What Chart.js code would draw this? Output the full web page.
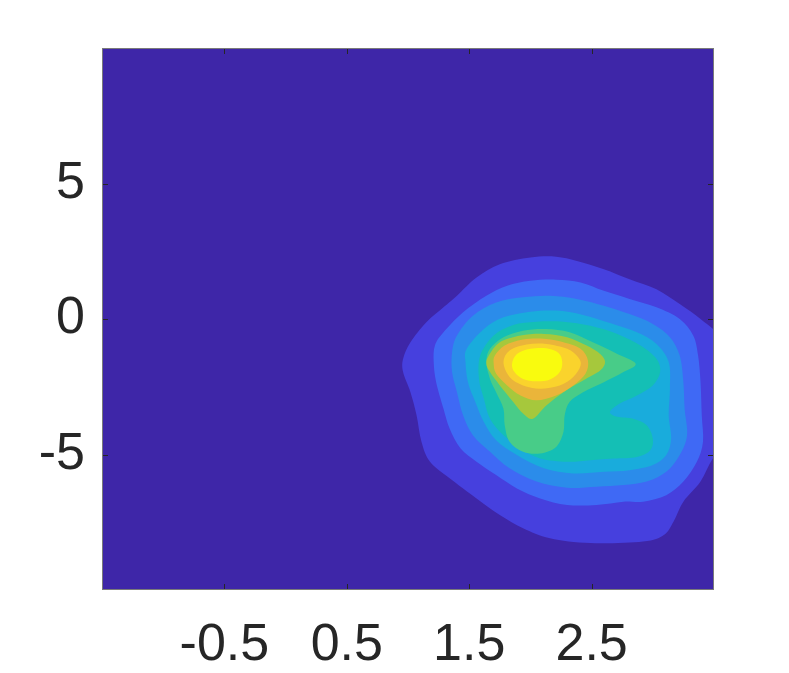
<!DOCTYPE html>
<html>
<head>
<meta charset="utf-8">
<script src="https://cdn.jsdelivr.net/npm/chart.js@4.4.1/dist/chart.umd.min.js"></script>
<style>
  html, body { margin: 0; padding: 0; background: #fff; }
  canvas { display: block; }
</style>
</head>
<body>
<canvas id="contour" width="789" height="673"></canvas>
<script>
// axis ticks
const xTicks = [-0.5, 0.5, 1.5, 2.5];
const yTicks = [5, 0, -5];

// filled contour levels, outermost first, [x, y] in data units
const level1 = [[1.40,0.86],[1.56,1.53],[1.75,2.02],[2.00,2.27],[2.21,2.30],[2.38,2.14],[2.60,1.84],[2.81,1.47],[3.03,1.10],[3.22,0.55],[3.39,0.00],[3.55,-0.70],[3.62,-2.0],[3.62,-4.5],[3.49,-5.15],[3.39,-6.00],[3.25,-6.74],[3.17,-7.47],[3.09,-7.97],[2.92,-8.21],[2.49,-8.27],[2.16,-8.09],[1.94,-7.72],[1.75,-7.23],[1.56,-6.62],[1.34,-5.88],[1.18,-5.27],[1.11,-4.53],[1.07,-3.55],[1.02,-2.70],[0.96,-1.96],[0.96,-1.47],[1.02,-0.86],[1.15,-0.12],[1.29,0.43]];
const level2 = [[1.29,-0.49],[1.45,0.25],[1.64,0.86],[1.81,1.23],[2.00,1.41],[2.21,1.45],[2.41,1.35],[2.60,1.04],[2.81,0.74],[3.03,0.43],[3.22,0.00],[3.33,-0.61],[3.37,-1.35],[3.39,-2.33],[3.40,-3.55],[3.41,-4.53],[3.36,-5.27],[3.25,-6.00],[3.11,-6.50],[2.92,-6.74],[2.76,-6.74],[2.54,-6.86],[2.30,-6.86],[2.08,-6.62],[1.89,-6.25],[1.72,-5.76],[1.56,-5.27],[1.43,-4.78],[1.34,-4.04],[1.29,-3.31],[1.23,-2.33],[1.21,-1.59],[1.22,-0.98]];
const level3 = [[1.40,-0.61],[1.53,0.12],[1.72,0.61],[1.94,0.80],[2.16,0.86],[2.38,0.74],[2.60,0.49],[2.81,0.18],[3.00,-0.18],[3.14,-0.67],[3.22,-1.35],[3.25,-2.33],[3.26,-3.31],[3.28,-4.29],[3.22,-5.02],[3.11,-5.64],[2.95,-6.00],[2.76,-6.13],[2.54,-6.19],[2.30,-6.23],[2.05,-6.00],[1.83,-5.51],[1.67,-4.90],[1.53,-4.29],[1.45,-3.55],[1.40,-2.70],[1.36,-1.96],[1.36,-1.23]];
const level4 = [[1.48,-1.10],[1.62,-0.37],[1.78,0.06],[2.00,0.27],[2.21,0.31],[2.43,0.15],[2.65,-0.15],[2.87,-0.49],[3.03,-0.92],[3.13,-1.59],[3.14,-2.57],[3.13,-3.55],[3.15,-4.41],[3.11,-5.02],[3.00,-5.39],[2.81,-5.58],[2.60,-5.64],[2.35,-5.70],[2.11,-5.51],[1.89,-5.02],[1.72,-4.47],[1.62,-3.80],[1.55,-3.06],[1.49,-2.33],[1.47,-1.59]];
const level5 = [[1.59,-1.35],[1.70,-0.61],[1.86,-0.22],[2.05,-0.10],[2.27,-0.10],[2.49,-0.25],[2.71,-0.55],[2.90,-0.98],[3.03,-1.47],[3.06,-1.96],[3.00,-2.45],[2.87,-2.82],[2.73,-3.12],[2.65,-3.43],[2.71,-3.61],[2.84,-3.68],[2.95,-3.92],[3.00,-4.41],[2.98,-4.84],[2.87,-5.09],[2.68,-5.15],[2.49,-5.21],[2.30,-5.27],[2.08,-5.15],[1.92,-4.78],[1.78,-4.29],[1.67,-3.68],[1.62,-2.94],[1.58,-2.21]];
const level6 = [[1.67,-1.10],[1.78,-0.67],[1.94,-0.43],[2.13,-0.37],[2.32,-0.49],[2.51,-0.86],[2.71,-1.29],[2.86,-1.65],[2.76,-1.96],[2.60,-2.33],[2.43,-2.70],[2.32,-3.06],[2.28,-3.55],[2.27,-4.17],[2.21,-4.72],[2.08,-4.96],[1.94,-4.90],[1.83,-4.53],[1.79,-3.92],[1.78,-3.31],[1.72,-2.70],[1.67,-2.21],[1.64,-1.59]];
const level7 = [[1.66,-1.35],[1.75,-0.86],[1.92,-0.61],[2.11,-0.55],[2.30,-0.67],[2.46,-0.98],[2.57,-1.29],[2.61,-1.59],[2.57,-1.90],[2.43,-2.27],[2.27,-2.70],[2.13,-3.19],[2.02,-3.68],[1.94,-3.49],[1.86,-3.06],[1.75,-2.45],[1.67,-1.96],[1.64,-1.65]];
const level8 = [[1.71,-1.35],[1.79,-0.98],[1.94,-0.76],[2.11,-0.73],[2.27,-0.86],[2.41,-1.10],[2.47,-1.53],[2.45,-2.02],[2.35,-2.45],[2.21,-2.82],[2.05,-3.00],[1.92,-2.82],[1.81,-2.45],[1.72,-2.02],[1.70,-1.65]];
const level9 = [[1.78,-1.59],[1.83,-1.16],[1.97,-0.94],[2.13,-0.92],[2.30,-1.10],[2.39,-1.41],[2.41,-1.72],[2.35,-2.14],[2.24,-2.45],[2.08,-2.57],[1.94,-2.45],[1.83,-2.14]];
const level10 = [[1.85,-1.65],[1.89,-1.29],[2.00,-1.10],[2.13,-1.08],[2.23,-1.25],[2.26,-1.59],[2.24,-1.96],[2.16,-2.23],[2.05,-2.30],[1.94,-2.21],[1.87,-1.96]];

const levels = [level1, level2, level3, level4, level5, level6, level7, level8, level9, level10];
const bgColor = '#3e26a8';
const levelColors = ['#4640de', '#3f69f5', '#2b8cea', '#19acdc', '#14bfb5', '#48cc88', '#a6c83c', '#eab53a', '#fad32c', '#f9fb0e'];

const textColor = '#262626';
const tickFont = { family: '"Liberation Sans", Arial, Helvetica, sans-serif', size: 52 };

// fills each level as a smooth closed curve through its points
const contourFill = {
  id: 'contourFill',
  beforeDatasetsDraw(chart) {
    const { ctx, chartArea: a } = chart;
    ctx.save();
    ctx.beginPath();
    ctx.rect(a.left, a.top, a.width, a.height);
    ctx.clip();
    ctx.fillStyle = bgColor;
    ctx.fillRect(a.left, a.top, a.width, a.height);
    chart.data.datasets.forEach((ds, i) => {
      const pts = chart.getDatasetMeta(i).data.map(p => ({ x: p.x, y: p.y }));
      const n = pts.length;
      ctx.beginPath();
      ctx.moveTo(pts[0].x, pts[0].y);
      for (let k = 0; k < n; k++) {
        const p0 = pts[(k - 1 + n) % n], p1 = pts[k];
        const p2 = pts[(k + 1) % n], p3 = pts[(k + 2) % n];
        ctx.bezierCurveTo(
          p1.x + (p2.x - p0.x) / 6, p1.y + (p2.y - p0.y) / 6,
          p2.x - (p3.x - p1.x) / 6, p2.y - (p3.y - p1.y) / 6,
          p2.x, p2.y
        );
      }
      ctx.closePath();
      ctx.fillStyle = ds.backgroundColor;
      ctx.fill();
    });
    ctx.restore();
  },
  afterDraw(chart) {
    const { ctx, chartArea: a, scales } = chart;
    ctx.save();
    ctx.strokeStyle = textColor;
    ctx.lineWidth = 1;
    const len = 6;
    ctx.beginPath();
    xTicks.forEach(v => {
      const x = Math.round(scales.x.getPixelForValue(v)) + 0.5;
      ctx.moveTo(x, a.bottom); ctx.lineTo(x, a.bottom - len);
      ctx.moveTo(x, a.top); ctx.lineTo(x, a.top + len);
    });
    yTicks.forEach(v => {
      const y = Math.round(scales.y.getPixelForValue(v)) + 0.5;
      ctx.moveTo(a.left, y); ctx.lineTo(a.left + len, y);
      ctx.moveTo(a.right, y); ctx.lineTo(a.right - len, y);
    });
    ctx.stroke();
    ctx.strokeStyle = '#7a7a7a';
    ctx.strokeRect(a.left + 0.5, a.top + 0.5, a.width - 1, a.height - 1);
    ctx.restore();
  }
};

new Chart(document.getElementById('contour'), {
  type: 'scatter',
  data: {
    datasets: levels.map((pts, i) => ({
      data: pts.map(([x, y]) => ({ x, y })),
      backgroundColor: levelColors[i],
      pointRadius: 0,
      showLine: false
    }))
  },
  options: {
    responsive: false,
    animation: false,
    events: [],
    layout: { padding: { top: 48, right: 75, left: 0, bottom: 0 } },
    plugins: { legend: { display: false }, tooltip: { enabled: false } },
    scales: {
      x: {
        type: 'linear', min: -1.5, max: 3.5,
        afterBuildTicks: s => { s.ticks = xTicks.map(v => ({ value: v })); },
        afterFit: s => { s.height = 83; },
        grid: { display: false },
        border: { display: false },
        ticks: { color: textColor, font: tickFont, padding: 16, maxRotation: 0, callback: v => String(v) }
      },
      y: {
        type: 'linear', min: -10, max: 10,
        afterBuildTicks: s => { s.ticks = yTicks.map(v => ({ value: v })); },
        afterFit: s => { s.width = 102; },
        grid: { display: false },
        border: { display: false },
        ticks: { color: textColor, font: tickFont, padding: 9, callback: v => String(v) }
      }
    }
  },
  plugins: [contourFill]
});
</script>
</body>
</html>
